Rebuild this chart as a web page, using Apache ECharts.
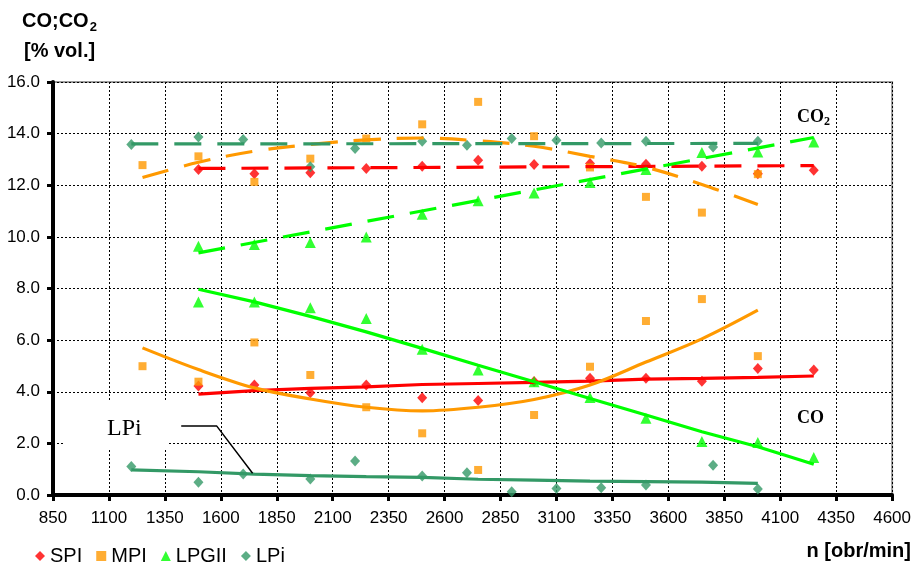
<!DOCTYPE html>
<html>
<head>
<meta charset="utf-8">
<script src="https://cdn.jsdelivr.net/npm/echarts@6/dist/echarts.min.js"></script>
<style>
  html, body { margin: 0; padding: 0; background: #fff; }
  #chart { width: 914px; height: 562px; }
</style>
</head>
<body>
<div id="chart"></div>
<script>
// Engine speed axis (obr/min) and concentration axis (% vol.)
const X_START = 850;
const X_END = 4600;
const X_STEP = 250;
const Y_MIN = 0;
const Y_MAX = 16;
const Y_STEP = 2;

// Measured points: SPI
const spiRpm = [1500, 1750, 2000, 2250, 2500, 2750, 3000, 3250, 3500, 3750, 4000, 4250];
const spiCO2 = [12.61, 12.45, 12.48, 12.65, 12.74, 12.97, 12.80, 12.84, 12.81, 12.74, 12.45, 12.58];
const spiCO  = [4.22, 4.26, 3.96, 4.26, 3.77, 3.66, 4.40, 4.52, 4.52, 4.41, 4.90, 4.84];

// Measured points: MPI
const mpiRpm = [1250, 1500, 1750, 2000, 2250, 2500, 2750, 3000, 3250, 3500, 3750, 4000];
const mpiCO2 = [12.78, 13.12, 12.13, 13.03, 13.81, 14.36, 15.23, 13.90, 12.69, 11.55, 10.94, 12.43];
const mpiCO  = [4.99, 4.39, 5.91, 4.65, 3.40, 2.39, 0.97, 3.10, 4.97, 6.74, 7.59, 5.38];

// Measured points: LPGII
const lpgRpm = [1500, 1750, 2000, 2250, 2500, 2750, 3000, 3250, 3500, 3750, 4000, 4250];
const lpgCO2 = [9.64, 9.70, 9.78, 10.00, 10.88, 11.40, 11.70, 12.11, 12.61, 13.27, 13.29, 13.68];
const lpgCO  = [7.48, 7.48, 7.25, 6.84, 5.65, 4.84, 4.39, 3.78, 2.97, 2.07, 2.03, 1.45];

// Measured points: LPi
const lpiRpm = [1200, 1500, 1700, 2000, 2200, 2500, 2700, 2900, 3100, 3300, 3500, 3800, 4000];
const lpiCO2 = [13.58, 13.87, 13.77, 12.72, 13.42, 13.70, 13.55, 13.81, 13.74, 13.64, 13.70, 13.48, 13.70];
const lpiCO  = [1.10, 0.49, 0.81, 0.62, 1.32, 0.74, 0.86, 0.13, 0.25, 0.28, 0.39, 1.15, 0.23];

// Trend lines, CO2 (dashed)
const spiCO2TrendRpm = [1500, 4250];
const spiCO2Trend    = [12.65, 12.76];
const mpiCO2TrendRpm = [1250, 1500, 1750, 2000, 2250, 2500, 2750, 3000, 3250, 3500, 3750, 4000];
const mpiCO2Trend    = [12.30, 12.89, 13.32, 13.58, 13.76, 13.83, 13.72, 13.51, 13.12, 12.70, 12.03, 11.25];
const lpgCO2TrendRpm = [1500, 4250];
const lpgCO2Trend    = [9.38, 13.85];
const lpiCO2TrendRpm = [1200, 4000];
const lpiCO2Trend    = [13.60, 13.62];

// Trend lines, CO (solid)
const spiCOTrendRpm = [1500, 1750, 2000, 2250, 2500, 2750, 3000, 3250, 3500, 3750, 4000, 4250];
const spiCOTrend    = [3.91, 4.04, 4.13, 4.19, 4.28, 4.32, 4.36, 4.41, 4.49, 4.52, 4.56, 4.61];
const mpiCOTrendRpm = [1250, 1500, 1750, 2000, 2250, 2500, 2750, 3000, 3250, 3500, 3750, 4000];
const mpiCOTrend    = [5.70, 4.86, 4.15, 3.72, 3.40, 3.26, 3.40, 3.70, 4.26, 5.15, 6.05, 7.16];
const lpgCOTrendRpm = [1500, 1750, 2000, 2250, 2500, 2750, 3000, 3250, 3500, 3750, 4000, 4250];
const lpgCOTrend    = [7.97, 7.48, 6.92, 6.32, 5.68, 5.03, 4.39, 3.74, 3.10, 2.45, 1.87, 1.19];
const lpiCOTrendRpm = [1200, 1500, 1750, 2000, 2250, 2500, 2750, 3000, 3250, 3500, 3750, 4000];
const lpiCOTrend    = [0.97, 0.90, 0.81, 0.75, 0.71, 0.68, 0.61, 0.58, 0.54, 0.52, 0.50, 0.45];

// Leader line from the "LPi" caption to its CO curve
const leaderRpm = [1423, 1582, 1742];
const leaderVal = [2.67, 2.67, 0.84];

const C_SPI = '#ff0000';
const C_MPI = '#ff9900';
const C_LPG = '#00ff00';
const C_LPI = '#339966';

const SANS = 'Arial, "Liberation Sans", sans-serif';
const SERIF = '"Times New Roman", "Liberation Serif", serif';

// The value axis starts its ticks at a multiple of the step, so x is shifted by X_START
function pts(xs, ys) {
  return xs.map((x, i) => [x - X_START, ys[i]]);
}

function markers(name, color, symbol, size, xs, ys) {
  return {
    name: name, type: 'scatter', data: pts(xs, ys),
    symbol: symbol, symbolSize: size,
    itemStyle: { color: color }, z: 3, silent: true
  };
}

function trend(name, color, xs, ys, dashed, smooth) {
  return {
    name: name, type: 'line', data: pts(xs, ys),
    symbol: 'none', showSymbol: false, smooth: smooth ? 0.35 : false,
    lineStyle: { color: color, width: 3.2, type: dashed ? [27, 16] : 'solid' },
    z: 4, silent: true
  };
}

const chart = echarts.init(document.getElementById('chart'), null, { renderer: 'canvas' });

chart.setOption({
  animation: false,
  backgroundColor: '#fff',
  grid: {
    left: 53, right: 19, top: 82, bottom: 67,
    show: true, borderColor: '#9a9a9a', borderWidth: 2, backgroundColor: 'transparent'
  },
  legend: {
    left: 30, top: 541,
    itemWidth: 10, itemHeight: 10, itemGap: 14,
    textStyle: { fontFamily: SANS, fontSize: 20, color: '#000' },
    data: [
      { name: 'SPI', icon: 'diamond' },
      { name: 'MPI', icon: 'rect' },
      { name: 'LPGII', icon: 'triangle' },
      { name: 'LPi', icon: 'diamond' }
    ],
    selectedMode: false
  },
  xAxis: {
    type: 'value', min: 0, max: X_END - X_START, interval: X_STEP,
    axisLine: { show: true, onZero: false, lineStyle: { color: '#000', width: 4 } },
    axisTick: { show: true, length: 6, lineStyle: { color: '#000', width: 3 } },
    axisLabel: {
      formatter: v => String(v + X_START), color: '#000',
      fontFamily: SANS, fontSize: 17, margin: 15,
      showMinLabel: true, showMaxLabel: true
    },
    splitLine: { show: true, lineStyle: { color: '#000', width: 1, type: [2, 2] } }
  },
  yAxis: {
    type: 'value', min: Y_MIN, max: Y_MAX, interval: Y_STEP,
    axisLine: { show: true, onZero: false, lineStyle: { color: '#000', width: 4 } },
    axisTick: { show: true, length: 6, lineStyle: { color: '#000', width: 3 } },
    axisLabel: {
      formatter: v => v.toFixed(1), color: '#000',
      fontFamily: SANS, fontSize: 17, margin: 13
    },
    splitLine: { show: true, lineStyle: { color: '#000', width: 1, type: [2, 2] } }
  },
  graphic: [
    { type: 'text', left: 22, top: 11, style: {
        text: '{m|CO;CO}{s|2}',
        rich: {
          m: { fontFamily: SANS, fontWeight: 'bold', fontSize: 20, fill: '#000' },
          s: { fontFamily: SANS, fontWeight: 'bold', fontSize: 13, fill: '#000', padding: [12, 0, 0, 1] }
        }
    } },
    { type: 'text', left: 24, top: 41, style: {
        text: '[% vol.]', fontFamily: SANS, fontWeight: 'bold', fontSize: 20, fill: '#000'
    } },
    { type: 'text', right: 3, top: 541, style: {
        text: 'n [obr/min]', fontFamily: SANS, fontWeight: 'bold', fontSize: 20, fill: '#000'
    } },
    { type: 'text', left: 797, top: 108, z: 10, style: {
        text: '{m|CO}{s|2}',
        rich: {
          m: { fontFamily: SERIF, fontWeight: 'bold', fontSize: 18, fill: '#000' },
          s: { fontFamily: SERIF, fontWeight: 'bold', fontSize: 12, fill: '#000', padding: [10, 0, 0, 0] }
        }
    } },
    { type: 'text', left: 797, top: 409, z: 10, style: {
        text: 'CO', fontFamily: SERIF, fontWeight: 'bold', fontSize: 18, fill: '#000'
    } },
    { type: 'rect', shape: { x: 65, y: 402, width: 102, height: 46 }, z: 1, silent: true,
      style: { fill: '#fff' } },
    { type: 'text', left: 107, top: 417, z: 10, style: {
        text: 'LPi', fontFamily: SERIF, fontSize: 24, fill: '#000'
    } }
  ],
  series: [
    markers('SPI', C_SPI, 'diamond', [10, 11], spiRpm, spiCO2),
    markers('SPI', C_SPI, 'diamond', [10, 11], spiRpm, spiCO),
    markers('MPI', C_MPI, 'rect', 8, mpiRpm, mpiCO2),
    markers('MPI', C_MPI, 'rect', 8, mpiRpm, mpiCO),
    markers('LPGII', C_LPG, 'triangle', [11, 11], lpgRpm, lpgCO2),
    markers('LPGII', C_LPG, 'triangle', [11, 11], lpgRpm, lpgCO),
    markers('LPi', C_LPI, 'diamond', [10, 11], lpiRpm, lpiCO2),
    markers('LPi', C_LPI, 'diamond', [10, 11], lpiRpm, lpiCO),

    trend('SPI CO2 trend', C_SPI, spiCO2TrendRpm, spiCO2Trend, true, false),
    trend('MPI CO2 trend', C_MPI, mpiCO2TrendRpm, mpiCO2Trend, true, true),
    trend('LPGII CO2 trend', C_LPG, lpgCO2TrendRpm, lpgCO2Trend, true, false),
    trend('LPi CO2 trend', C_LPI, lpiCO2TrendRpm, lpiCO2Trend, true, false),

    trend('SPI CO trend', C_SPI, spiCOTrendRpm, spiCOTrend, false, false),
    trend('MPI CO trend', C_MPI, mpiCOTrendRpm, mpiCOTrend, false, true),
    trend('LPGII CO trend', C_LPG, lpgCOTrendRpm, lpgCOTrend, false, false),
    trend('LPi CO trend', C_LPI, lpiCOTrendRpm, lpiCOTrend, false, false),

    {
      name: 'LPi leader', type: 'line', data: pts(leaderRpm, leaderVal),
      symbol: 'none', showSymbol: false, silent: true,
      lineStyle: { color: '#000', width: 1.5 }, z: 5
    }
  ]
});
</script>
</body>
</html>
